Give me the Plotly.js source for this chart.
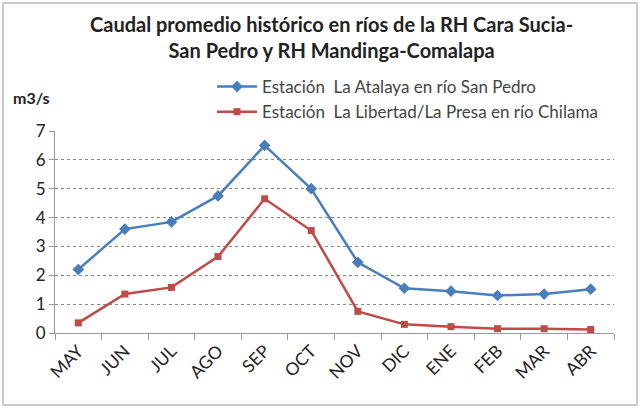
<!DOCTYPE html>
<html><head><meta charset="utf-8">
<script src="https://cdn.plot.ly/plotly-3.0.1.min.js"></script>
<style>html,body{margin:0;padding:0;background:#fff;}#chart{width:641px;height:409px;}</style>
</head><body><div id="chart"></div>
<script>
const months = ["MAY","JUN","JUL","AGO","SEP","OCT","NOV","DIC","ENE","FEB","MAR","ABR"];
const atalaya = [2.2, 3.6, 3.85, 4.75, 6.5, 5.0, 2.45, 1.55, 1.45, 1.3, 1.35, 1.52];
const libertad = [0.35, 1.35, 1.58, 2.65, 4.65, 3.55, 0.75, 0.3, 0.22, 0.15, 0.15, 0.12];
const seriesNames = ["Estación  La Atalaya en río San Pedro", "Estación  La Libertad/La Presa en río Chilama"];
const titleText = 'Caudal promedio histórico en ríos de la RH Cara Sucia-<br>San Pedro y RH Mandinga-Comalapa';

const W = 641, H = 409, L = 55, R = 27, T = 131, B = 76;
const pw = W - L - R, ph = H - T - B;
const px = v => (v - L) / pw, py = v => (H - B - v) / ph;

const traces = [
  {x: months, y: atalaya, name: seriesNames[0], type: 'scatter', mode: 'lines+markers',
   line: {color: '#4A7EBB', width: 2.5}, marker: {symbol: 'diamond', size: 9, color: '#4A7EBB'}},
  {x: months, y: libertad, name: seriesNames[1], type: 'scatter', mode: 'lines+markers',
   line: {color: '#BE4B48', width: 2.5}, marker: {symbol: 'square', size: 7, color: '#BE4B48'}}
];

const layout = {
  width: W, height: H,
  margin: {l: L, r: R, t: T, b: B},
  paper_bgcolor: '#fff', plot_bgcolor: '#fff',
  font: {family: 'Lato, "Open Sans", sans-serif', color: '#222'},
  showlegend: true,
  legend: {x: px(212), y: py(69), xanchor: 'left', yanchor: 'top', bgcolor: 'rgba(0,0,0,0)',
           font: {size: 17, color: '#444'}, tracegroupgap: 0, itemwidth: 40},
  xaxis: {type: 'category', tickangle: -45, tickfont: {size: 17.5, color: '#222'},
          showgrid: false, showline: true, linecolor: '#999', linewidth: 1,
          ticks: 'outside', tickson: 'boundaries', ticklen: 6, tickcolor: '#999',
          range: [-0.5, 11.5], fixedrange: true},
  yaxis: {range: [0, 7], dtick: 1, tickfont: {size: 17, color: '#222'},
          showgrid: true, gridcolor: '#888', griddash: 'dot', gridwidth: 1,
          showline: true, linecolor: '#999', linewidth: 1,
          ticks: 'outside', ticklen: 5, tickcolor: '#999', zeroline: false, fixedrange: true},
  annotations: [
    {text: titleText, xref: 'paper', yref: 'paper', x: px(331), y: py(37), xanchor: 'center', yanchor: 'middle',
     showarrow: false, align: 'center', font: {size: 20, weight: 'bold', color: '#222'}},
    {text: 'm3/s', xref: 'paper', yref: 'paper', x: px(11), y: py(97), xanchor: 'left', yanchor: 'middle',
     showarrow: false, font: {size: 16, weight: 'bold', color: '#222'}}
  ],
  shapes: [
    {type: 'rect', xref: 'paper', yref: 'paper', x0: px(3), x1: px(637), y0: py(405), y1: py(3),
     line: {color: '#bbb', width: 1.5}, layer: 'below'}
  ]
};
Plotly.newPlot('chart', traces, layout, {displayModeBar: false, staticPlot: true});
</script></body></html>
